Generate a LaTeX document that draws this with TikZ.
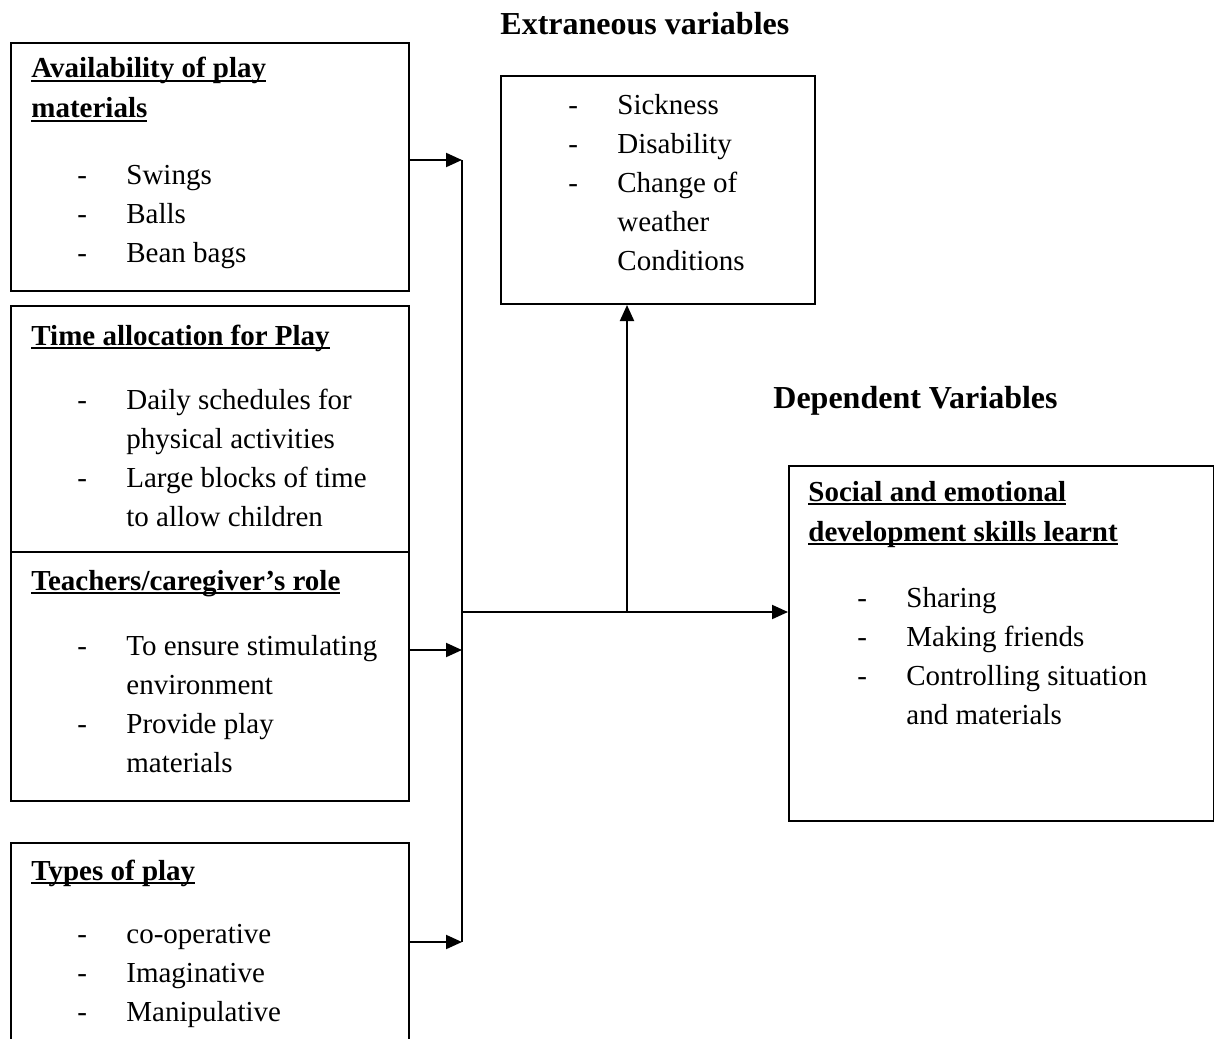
\documentclass[tikz,border=0pt]{standalone}
\usepackage{fontspec}
\setmainfont{Liberation Serif}
\usetikzlibrary{arrows.meta}
\newcommand\myul[1]{\setbox0\hbox{#1}\rlap{\rule[-2.1pt]{\wd0}{0.9pt}}\box0}
\newcommand\itm{\makebox[24.5pt][l]{-}}
\newcommand\cnt{\hspace*{24.5pt}}
\tikzset{
  box/.style={draw, line width=1pt, fill=white, anchor=north west, inner sep=0pt},
  txt/.style={anchor=base west, inner sep=0pt, align=left, font=\fontsize{14.5}{19.5}\selectfont},
  ttl/.style={anchor=base west, inner sep=0pt, align=left, font=\fontsize{14.5}{19.5}\selectfont\bfseries},
  head/.style={anchor=base west, inner sep=0pt, font=\fontsize{16}{19.5}\selectfont\bfseries},
  link/.style={line width=1pt},
  arr/.style={line width=1pt, -{Triangle[length=8pt,width=7pt]}}
}
\begin{document}
\begin{tikzpicture}[x=0.5pt,y=-0.5pt]
\useasboundingbox (0,0) rectangle (1214,1038);
% boxes (base anchor of multi-line texts = baseline of last line)
\node[box, minimum width=398pt/2, minimum height=248pt/2] (A) at (10,42) {};
\node[box, minimum width=398pt/2, minimum height=300pt/2] (B) at (10,305) {};
\node[box, minimum width=314pt/2, minimum height=228pt/2] (ext) at (500,75) {};
\node[box, minimum width=425pt/2, minimum height=355pt/2] (dep) at (788,465) {};
% headings
\node[head] (hext) at (500,35) {Extraneous variables};
\node[head] (hdep) at (773,408) {Dependent Variables};
% box A
\node[ttl] (tA) at (31,118) {\myul{Availability of play}\\[0.5pt]\myul{materials}};
\node[txt] (lA) at (77,262) {\itm Swings\\\itm Balls\\\itm Bean bags};
% box B
\node[ttl] (tB) at (31,345) {\myul{Time allocation for Play}};
\node[txt] (lB) at (77,526) {\itm Daily schedules for\\\cnt physical activities\\\itm Large blocks of time\\\cnt to allow children};
% box C (drawn over B)
\node[box, minimum width=398pt/2, minimum height=249pt/2] (C) at (10,551) {};
\node[ttl] (tC) at (31,590) {\myul{Teachers/caregiver’s role}};
\node[txt] (lC) at (77,772) {\itm To ensure stimulating\\\cnt environment\\\itm Provide play\\\cnt materials};
% box D
\node[box, minimum width=398pt/2, minimum height=210pt/2] (D) at (10,842) {};
\node[ttl] (tD) at (31,880) {\myul{Types of play}};
\node[txt] (lD) at (77,1021) {\itm co-operative\\\itm Imaginative\\\itm Manipulative};
% extraneous
\node[txt] (lE) at (568,270) {\itm Sickness\\\itm Disability\\\itm Change of\\\cnt weather\\\cnt Conditions};
% dependent
\node[ttl] (tF) at (808,541) {\myul{Social and emotional}\\[0.5pt]\myul{development skills learnt}};
\node[txt] (lF) at (857,724) {\itm Sharing\\\itm Making friends\\\itm Controlling situation\\\cnt and materials};
% connectors
\coordinate (j1) at (462,160);
\coordinate (j2) at (462,650);
\coordinate (j3) at (462,942);
\coordinate (j4) at (462,612);
\coordinate (j5) at (627,612);
\draw[link] (j1) -- (j3);
\draw[arr] (j1 -| A.east) -- (j1);
\draw[arr] (j2 -| C.east) -- (j2);
\draw[arr] (j3 -| D.east) -- (j3);
\draw[arr] (j4) -- (j4 -| dep.west);
\draw[arr] (j5) -- (j5 |- ext.south);
\end{tikzpicture}
\end{document}
